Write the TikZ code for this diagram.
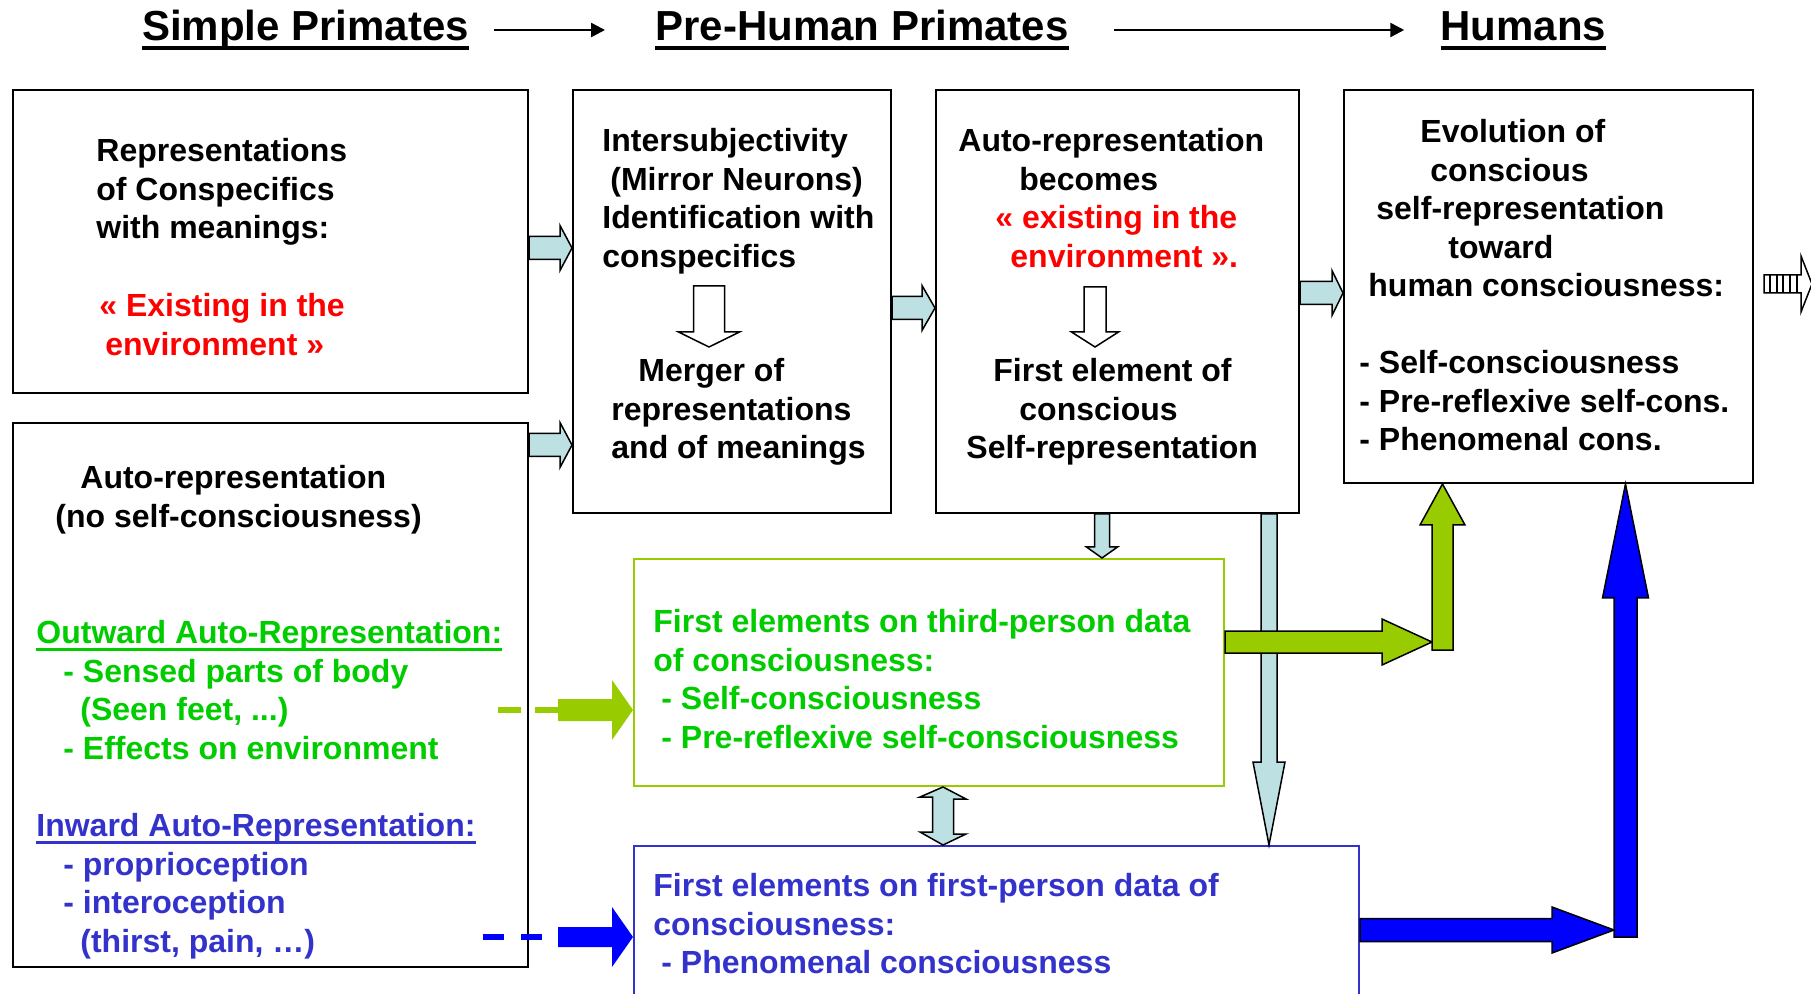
\documentclass[tikz,border=0pt]{standalone}
\usepackage{fontspec}
\setmainfont{Liberation Sans}
\usetikzlibrary{calc,fit,arrows.meta}
\definecolor{arrowcyan}{HTML}{BDE0E3}
\definecolor{leafgreen}{HTML}{99CC00}
\definecolor{textgreen}{HTML}{00CC00}
\definecolor{textblue}{HTML}{3333CC}
\definecolor{arrowblue}{HTML}{0000FF}
\tikzset{
  box/.style={draw, line width=1pt, inner sep=0pt},
  txt/.style={inner sep=0pt, font=\bfseries\fontsize{16}{19.25}\selectfont},
  title/.style={anchor=base, inner sep=0pt, font=\bfseries\fontsize{21}{25}\selectfont},
  titlearrow/.style={line width=1.2pt, -{Triangle[length=7pt,width=7pt]}},
  cyanarr/.style={draw, fill=arrowcyan, line width=0.75pt},
  greenarr/.style={draw, fill=leafgreen, line width=0.75pt},
  bluearr/.style={draw, fill=arrowblue, line width=0.75pt},
  hollowarr/.style={draw, fill=white, line width=0.75pt},
  greenfill/.style={draw=none, fill=leafgreen},
  bluefill/.style={draw=none, fill=arrowblue},
  greendash/.style={leafgreen, line width=2.6pt, dash pattern=on 11.5pt off 7pt},
  bluedash/.style={arrowblue, line width=2.6pt, dash pattern=on 10.5pt off 8.5pt}
}
% underlined text, rule scaled with the font
\newcommand{\ulined}[1]{\setbox0=\hbox{#1}\rlap{\rule[-0.22em]{\wd0}{0.08em}}\box0}
% block arrows: style, tail, tip, half shaft, half head, head length
\newcommand{\hblock}[6]{%
  \draw[#1] ($#2+(0,-#4)$) -- ($#3+(-#6,-#4)$) -- ($#3+(-#6,-#5)$) -- #3
    -- ($#3+(-#6,#5)$) -- ($#3+(-#6,#4)$) -- ($#2+(0,#4)$) -- cycle;}
\newcommand{\vblock}[6]{%
  \draw[#1] ($#2+(-#4,0)$) -- ($#3+(-#4,{-(#6)})$) -- ($#3+(-#5,{-(#6)})$) -- #3
    -- ($#3+(#5,{-(#6)})$) -- ($#3+(#4,{-(#6)})$) -- ($#2+(#4,0)$) -- cycle;}

\begin{document}
\begin{tikzpicture}[x=0.5pt,y=-0.5pt]
  \useasboundingbox (0,0) rectangle (1811,994);
  % titles
  \node[title] (simple) at (305.5,40.5) {\ulined{Simple Primates}};
  \node[title] (prehuman) at (862,40.5) {\ulined{Pre-Human Primates}};
  \node[title] (humans) at (1523.5,40.5) {\ulined{Humans}};
  \draw[titlearrow,shorten <=12.5pt,shorten >=25pt] (simple.east |- 0,30) -- (prehuman.west |- 0,30);
  \draw[titlearrow,shorten <=22.5pt,shorten >=18pt] (prehuman.east |- 0,30) -- (humans.west |- 0,30);

  % boxes
  \node[box, fit={(12.6,90) (528,393)}] (rep) {};
  \node[box, fit={(12.6,423) (528,967)}] (noself) {};
  \node[box, fit={(573,90) (891,513)}] (inter) {};
  \node[box, fit={(936,90) (1299,513)}] (becomes) {};
  \node[box, fit={(1344,90) (1753,483)}] (evol) {};
  \node[box, draw=leafgreen, fit={(634,559) (1224,786)}] (third) {};
  \node[box, draw=textblue, fit={(634,846) (1359,1010)}] (first) {};

  % texts
  \node[txt, anchor=north west, align=left] (rep-t) at (96,138)
    {Representations\\of Conspecifics\\with meanings:};
  \node[txt, red, anchor=north west, align=left] (rep-r) at (99,293)
    {« Existing in the\\\hspace*{3pt}environment »};
  \node[txt, anchor=north west, align=left] (inter-t) at (602,128)
    {Intersubjectivity\\\hspace*{4pt}(Mirror Neurons)\\Identification with\\conspecifics};
  \node[txt, anchor=north west, align=left] (inter-b) at (611,358)
    {\hspace*{13.5pt}Merger of\\representations\\and of meanings};
  \node[txt, anchor=north west, align=left] (becomes-t) at (958,128)
    {Auto-representation\\\hspace*{30.5pt}becomes\\\hspace*{18.5pt}\textcolor{red}{« existing in the}\\\hspace*{26pt}\textcolor{red}{environment ».}};
  \node[txt, anchor=north west, align=left] (becomes-b) at (966,358)
    {\hspace*{13.5pt}First element of\\\hspace*{26.5pt}conscious\\Self-representation};
  \node[txt, anchor=north west, align=left] (evol-t) at (1368,119)
    {\hspace*{26pt}Evolution of\\\hspace*{31pt}conscious\\\hspace*{4pt}self-representation\\\hspace*{40pt}toward\\human consciousness:};
  \node[txt, anchor=north west, align=left] (evol-b) at (1359,350)
    {- Self-consciousness\\- Pre-reflexive self-cons.\\- Phenomenal cons.};
  \node[txt, anchor=north west, align=left] (noself-t) at (55,465)
    {\hspace*{12.5pt}Auto-representation\\(no self-consciousness)};
  \node[txt, textgreen, anchor=north west, align=left] (outward) at (36,620)
    {\ulined{Outward Auto-Representation:}\\\hspace*{13.5pt}- Sensed parts of body\\\hspace*{22pt}(Seen feet, ...)\\\hspace*{13.5pt}- Effects on environment};
  \node[txt, textblue, anchor=north west, align=left] (inward) at (36,813)
    {\ulined{Inward Auto-Representation:}\\\hspace*{13.5pt}- proprioception\\\hspace*{13.5pt}- interoception\\\hspace*{22pt}(thirst, pain, …)};
  \node[txt, textgreen, anchor=north west, align=left] (third-t) at (653,609)
    {First elements on third-person data\\of consciousness:\\\hspace*{4pt}- Self-consciousness\\\hspace*{4pt}- Pre-reflexive self-consciousness};
  \node[txt, textblue, anchor=north west, align=left] (first-t) at (653,873)
    {First elements on first-person data of\\consciousness:\\\hspace*{4pt}- Phenomenal consciousness};

  % free ends
  \coordinate (i1) at (709,286);
  \coordinate (i2) at (709,347);
  \coordinate (b1) at (1095,287);
  \coordinate (b2) at (1095,347);
  \coordinate (gtail) at ($(noself.east |- 0,710)+(29,0)$);
  \coordinate (btail) at ($(noself.east |- 0,937)+(29,0)$);
  \coordinate (gjoin) at (1432,642);
  \coordinate (gcorner) at (1442.5,650);
  \coordinate (bjoin) at (1614,930);
  \coordinate (bcorner) at (1625.5,937);
  \coordinate (etail) at ($(evol.east |- 0,284)+(10,0)$);
  \coordinate (offpage) at (1812,284);

  % cyan arrows
  \hblock{cyanarr}{(rep.east |- 0,248)}{(inter.west |- 0,248)}{11.5}{22.5}{12}
  \hblock{cyanarr}{(noself.east |- 0,445)}{(inter.west |- 0,445)}{11.5}{22.5}{12}
  \hblock{cyanarr}{(inter.east |- 0,308)}{(becomes.west |- 0,308)}{11.5}{22.5}{13}
  \hblock{cyanarr}{(becomes.east |- 0,293)}{(evol.west |- 0,293)}{11.5}{22.5}{11}
  \vblock{cyanarr}{(becomes.south -| 1102,0)}{(third.north -| 1102,0)}{7.5}{15.5}{11}
  \vblock{cyanarr}{(becomes.south -| 1269,0)}{(first.north -| 1269,0)}{8}{16}{83}
  \draw[cyanarr] (third.south -| 943,0) -- ++(23,12) -- ++(-12.5,0) -- ++(0,35) -- ++(12.5,0)
    -- (first.north -| 943,0) -- ++(-23,-13) -- ++(12.5,0) -- ++(0,-35) -- ++(-12.5,0) -- cycle;

  % hollow arrows inside the boxes
  \vblock{hollowarr}{(i1)}{(i2)}{15.5}{30.5}{15}
  \vblock{hollowarr}{(b1)}{(b2)}{11}{23.5}{15}

  % green and blue arrows
  \draw[greendash] ($(noself.east |- 0,710)+(-31,0)$) -- (gtail);
  \hblock{greenfill}{(gtail)}{(third.west |- 0,710)}{11}{30}{21}
  \draw[bluedash] ($(noself.east |- 0,937)+(-46,0)$) -- (btail);
  \hblock{bluefill}{(btail)}{(first.west |- 0,937)}{10}{30}{21}
  \hblock{greenarr}{(third.east |- 0,642)}{(gjoin)}{11}{23}{50}
  \vblock{greenarr}{(gcorner)}{(evol.south -| 1442.5,0)}{10.5}{22.5}{-41}
  \hblock{bluearr}{(first.east |- 0,930)}{(bjoin)}{11.5}{23}{62}
  \vblock{bluearr}{(bcorner)}{(evol.south -| 1625.5,0)}{11.5}{23}{-114}

  % striped arrow leaving the page
  \hblock{hollowarr}{(etail)}{(offpage)}{9}{28}{11}
  \draw[line width=0.75pt] (1770,275) -- (1770,293) (1777,275) -- (1777,293)
    (1783,275) -- (1783,293) (1790,275) -- (1790,293) (1797,275) -- (1797,293);
\end{tikzpicture}
\end{document}
